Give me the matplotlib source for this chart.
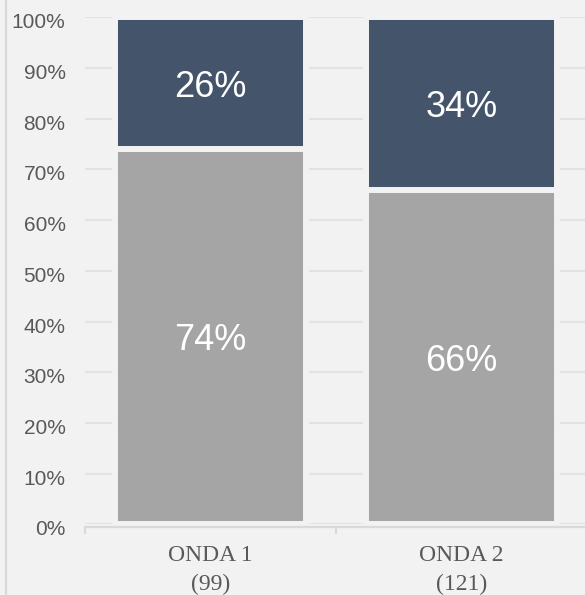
import matplotlib
matplotlib.use("Agg")
import matplotlib.pyplot as plt
import matplotlib.transforms as mtransforms
from matplotlib.lines import Line2D

# share of respondents per wave (percent)
waves = ["ONDA 1\n(99)", "ONDA 2\n(121)"]
share_low = [74, 66]
share_high = [26, 34]
y_ticks = [0, 10, 20, 30, 40, 50, 60, 70, 80, 90, 100]

bg = "#f2f2f2"
c_low = "#a5a5a5"
c_high = "#44546a"
c_text = "#595959"
c_line = "#d9d9d9"

fig = plt.figure(figsize=(5.85, 5.95), dpi=100, facecolor=bg)
ax = fig.add_axes([85 / 585, 70.6 / 595, 502 / 585, 507.1 / 595], facecolor=bg)

x = list(range(len(waves)))
bw = 0.763
b1 = ax.bar(x, share_low, width=bw, color=c_low, edgecolor=bg, linewidth=4.3, zorder=2)
b2 = ax.bar(x, share_high, width=bw, bottom=share_low, color=c_high,
            edgecolor=bg, linewidth=4.3, zorder=2)

for bars, vals, bots in ((b1, share_low, [0, 0]), (b2, share_high, share_low)):
    for r, v, b in zip(bars, vals, bots):
        ax.text(r.get_x() + r.get_width() / 2, b + v / 2, f"{v}%",
                ha="center", va="center_baseline", color="white", fontsize=26,
                family="Liberation Sans", zorder=3)

ax.set_xlim(-0.5, len(waves) - 0.5)
ax.set_ylim(0, 100)

ax.set_yticks(y_ticks)
ax.set_yticklabels([f"{t}%" for t in y_ticks])
ax.tick_params(axis="y", length=0, pad=14)
ax.yaxis.grid(True, color="#e3e3e3", linewidth=1.6, zorder=0)
ax.set_axisbelow(True)

ax.set_xticks([i - 0.5 for i in x], minor=True)
ax.set_xticks(x)
ax.set_xticklabels(waves)
ax.tick_params(axis="x", which="major", length=0, pad=13)
ax.tick_params(axis="x", which="minor", length=5, width=1.5, color=c_line)

for s in ("left", "right", "top"):
    ax.spines[s].set_visible(False)
ax.spines["bottom"].set_color(c_line)
ax.spines["bottom"].set_linewidth(1.6)
ax.spines["bottom"].set_position(("outward", 2))

for lbl in ax.get_yticklabels():
    lbl.set_fontfamily("Liberation Sans")
    lbl.set_fontsize(15)
    lbl.set_color(c_text)
for lbl in ax.get_xticklabels():
    lbl.set_fontfamily("Liberation Serif")
    lbl.set_fontsize(17)
    lbl.set_color(c_text)
    lbl.set_linespacing(1.45)

# nudge y labels down slightly
off = mtransforms.ScaledTranslation(0, -3.5 / 100, fig.dpi_scale_trans)
for t in ax.yaxis.get_major_ticks():
    t.label1.set_transform(t.label1.get_transform() + off)

fig.add_artist(Line2D([6 / 585, 6 / 585], [0, 1], color=c_line, linewidth=1.6,
                      transform=fig.transFigure))

fig.savefig("out.png", dpi=100, facecolor=bg)
